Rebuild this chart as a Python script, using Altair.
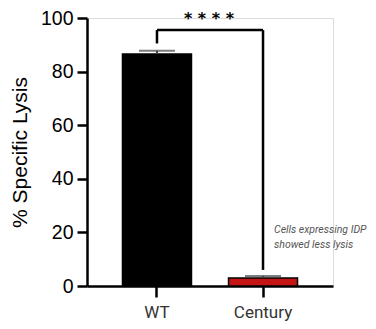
import altair as alt
import pandas as pd

groups = ["WT", "Century"]
means = [86.6, 3.0]
errors = [1.2, 0.7]
bar_colors = ["#000000", "#c41414"]

bracket_top = 95.5
bracket_left_end = 90.5
bracket_right_end = 6.0
stars = "* * * *"
note_lines = ["Cells expressing IDP", "showed less lysis"]
note_y = 21.0

bars_df = pd.DataFrame({"group": groups, "mean": means,
                        "upper": [m + e for m, e in zip(means, errors)],
                        "color": bar_colors})

xscale = alt.Scale(domain=groups, paddingInner=0.34, paddingOuter=0.33)
yscale = alt.Scale(domain=[0, 100])

x = alt.X("group:N", scale=xscale, sort=groups,
          axis=alt.Axis(title=None, labelAngle=0, labelFont="Roboto", labelFontSize=17,
                        labelColor="#333", labelPadding=7, tickSize=11, tickWidth=2.5,
                        tickColor="black", domainWidth=2.5, domainColor="black"))
y = alt.Y("mean:Q", scale=yscale,
          axis=alt.Axis(title="% Specific Lysis", titleFont="Liberation Sans",
                        titleFontSize=21, titleFontWeight="normal", titleColor="black",
                        titlePadding=10, labelFont="Liberation Sans", labelFontSize=19.5,
                        labelColor="black", values=[0, 20, 40, 60, 80, 100], tickSize=10,
                        tickWidth=2.5, tickColor="black", domainWidth=2.5,
                        domainColor="black", grid=False, labelPadding=4))

bars = alt.Chart(bars_df).mark_bar(stroke="black", strokeWidth=1.5, size=69).encode(
    x=x, y=y, color=alt.Color("color:N", scale=None))

err_rule = alt.Chart(bars_df).mark_rule(color="#444", strokeWidth=2).encode(
    x=alt.X("group:N", scale=xscale, sort=groups), y="mean:Q", y2="upper:Q")
err_cap = alt.Chart(bars_df).mark_tick(color="#444", thickness=2, size=36, orient="horizontal").encode(
    x=alt.X("group:N", scale=xscale, sort=groups), y=alt.Y("upper:Q", scale=yscale))

br_df = pd.DataFrame({"x1": [groups[0]], "x2": [groups[1]], "y": [bracket_top]})
br_h = alt.Chart(br_df).mark_rule(color="black", strokeWidth=2.5).encode(
    x=alt.X("x1:N", scale=xscale, sort=groups), x2="x2:N", y=alt.Y("y:Q", scale=yscale))
bv_df = pd.DataFrame({"g": groups, "top": [bracket_top, bracket_top],
                      "bot": [bracket_left_end, bracket_right_end]})
br_v = alt.Chart(bv_df).mark_rule(color="black", strokeWidth=2.5).encode(
    x=alt.X("g:N", scale=xscale, sort=groups), y=alt.Y("top:Q", scale=yscale), y2="bot:Q")

star_df = pd.DataFrame({"g": [groups[0]], "y": [bracket_top], "t": [stars]})
star = alt.Chart(star_df).mark_text(font="DejaVu Sans", fontSize=16, fontWeight="bold",
                                    dx=52, dy=-11, color="black").encode(
    x=alt.X("g:N", scale=xscale, sort=groups), y=alt.Y("y:Q", scale=yscale), text="t:N")

note_df = pd.DataFrame({"g": [groups[1]], "y": [note_y], "t": ["\n".join(note_lines)]})
note = alt.Chart(note_df).mark_text(font="Roboto", fontSize=10.5, fontStyle="italic",
                                    align="left", baseline="middle", dx=11, lineBreak="\n",
                                    lineHeight=15, color="#555").encode(
    x=alt.X("g:N", scale=xscale, sort=groups), y=alt.Y("y:Q", scale=yscale), text="t:N")

chart = alt.layer(bars, err_rule, err_cap, br_h, br_v, star, note).properties(
    width=246, height=268,
    autosize=alt.AutoSizeParams(type="none"),
    padding={"left": 79, "top": 10, "right": 35, "bottom": 35},
).configure_view(stroke=None).configure(background="white")

chart.save("out.html", embed_options={"renderer": "svg", "actions": False})
